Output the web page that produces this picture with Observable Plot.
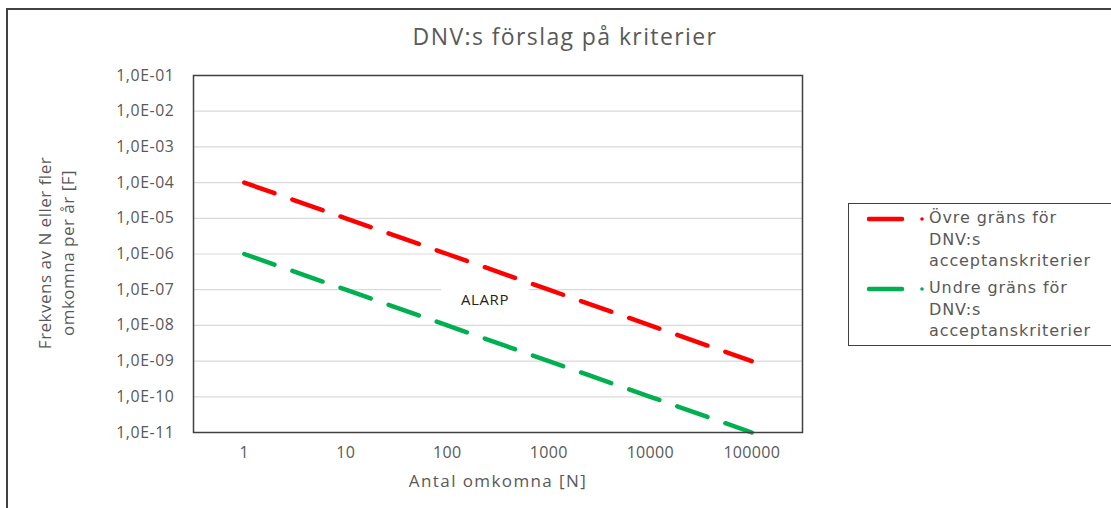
<!DOCTYPE html>
<html>
<head>
<meta charset="utf-8">
<script src="https://cdn.jsdelivr.net/npm/d3@7"></script>
<script src="https://cdn.jsdelivr.net/npm/@observablehq/plot@0.6"></script>
<style>
  html, body { margin: 0; padding: 0; background: #fff; width: 1111px; height: 508px; overflow: hidden; }
  #wrap { position: relative; width: 1111px; height: 508px; overflow: hidden; font-family: "Open Sans", sans-serif; }
  #border { position: absolute; left: 6px; top: 8px; width: 1200px; height: 600px; border: 2px solid #404040; box-sizing: border-box; }
  #title { position: absolute; left: 0; width: 1130px; top: 20px; text-align: center; font-size: 23px; letter-spacing: 1.4px; color: #595959; }
  #ylabel { position: absolute; left: 56px; top: 253px; transform: translate(-50%, -50%) rotate(-90deg); white-space: nowrap; text-align: center; font-size: 17px; letter-spacing: 0.5px; line-height: 23px; color: #595959; }
  #xlabel { position: absolute; left: 498px; top: 469px; transform: translateX(-50%); font-size: 17px; letter-spacing: 1.4px; color: #595959; white-space: nowrap; }
  #alarp { position: absolute; left: 441px; top: 282px; width: 88px; height: 34px; background: #fff; font-size: 15px; letter-spacing: 0.6px; color: #222; display: flex; align-items: center; justify-content: center; }
  #legend { position: absolute; left: 848px; top: 203px; width: 280px; height: 143px; border: 1.5px solid #404040; box-sizing: border-box; background: #fff; font-family: "DejaVu Sans", sans-serif; font-size: 16px; letter-spacing: 0.9px; color: #595959; }
  .item { position: absolute; left: 18px; }
  .item svg { position: absolute; left: 0; top: 6px; }
  .item .txt { position: absolute; left: 62px; top: 0; line-height: 21.5px; white-space: nowrap; }
  #chart svg { position: absolute; left: 0; top: 0; }
  #chart g[aria-label="y-axis tick label"] text { letter-spacing: 0.6px; font-size: 15.8px; }
  #chart g[aria-label="x-axis tick label"] text { letter-spacing: 0.3px; }
</style>
</head>
<body>
<div id="wrap">
  <div id="border"></div>
  <div id="chart"></div>
  <div id="title"></div>
  <div id="ylabel"></div>
  <div id="xlabel"></div>
  <div id="alarp"></div>
  <div id="legend"></div>
</div>
<script>
// ---- data ----
const N = [1, 10, 100, 1000, 10000, 100000];
const upper = [1e-4, 1e-5, 1e-6, 1e-7, 1e-8, 1e-9];
const lower = [1e-6, 1e-7, 1e-8, 1e-9, 1e-10, 1e-11];
const yTicks = [1e-1, 1e-2, 1e-3, 1e-4, 1e-5, 1e-6, 1e-7, 1e-8, 1e-9, 1e-10, 1e-11];
const seriesNames = ["Övre gräns för DNV:s acceptanskriterier", "Undre gräns för DNV:s acceptanskriterier"];
const seriesLegendLines = [["Övre gräns för", "DNV:s", "acceptanskriterier"], ["Undre gräns för", "DNV:s", "acceptanskriterier"]];
const seriesColors = ["#FF0000", "#00B050"];
const titleText = "DNV:s förslag på kriterier";
const yLabelLines = ["Frekvens av N eller fler", "omkomna per år [F]"];
const xLabelText = "Antal omkomna [N]";
const annotationText = "ALARP";

const rows = [];
N.forEach((n, i) => rows.push({N: n, F: upper[i], series: seriesNames[0]}));
N.forEach((n, i) => rows.push({N: n, F: lower[i], series: seriesNames[1]}));

const fmtY = d => "1,0E-" + String(Math.round(-Math.log10(d))).padStart(2, "0");

const chart = Plot.plot({
  width: 1111,
  height: 508,
  marginLeft: 193,
  marginRight: 309,
  marginTop: 75,
  marginBottom: 76,
  style: {fontFamily: "'Open Sans', sans-serif", fontSize: "16px", color: "#595959", background: "transparent"},
  x: {type: "log", domain: [Math.pow(10, -0.5), Math.pow(10, 5.5)]},
  y: {type: "log", domain: [1e-11, 1e-1]},
  color: {domain: seriesNames, range: seriesColors},
  marks: [
    Plot.gridY(yTicks, {stroke: "#d9d9d9", strokeOpacity: 1, strokeWidth: 1.2}),
    Plot.axisX(N, {tickSize: 0, tickPadding: 14, tickFormat: d => d.toFixed(0), label: null, fill: "#595959"}),
    Plot.axisY(yTicks, {tickSize: 0, tickPadding: 19, tickFormat: fmtY, label: null, fill: "#595959"}),
    Plot.line(rows, {x: "N", y: "F", z: "series", stroke: "series", strokeWidth: 4.5,
      strokeDasharray: "32,19", strokeLinecap: "round"}),
    Plot.frame({stroke: "#404040", strokeWidth: 1.5})
  ]
});
document.getElementById("chart").appendChild(chart);

document.getElementById("title").textContent = titleText;
document.getElementById("ylabel").innerHTML = yLabelLines.join("<br>");
document.getElementById("xlabel").textContent = xLabelText;
document.getElementById("alarp").textContent = annotationText;

const legend = document.getElementById("legend");
const tops = [3, 73];
seriesNames.forEach((name, i) => {
  const item = document.createElement("div");
  item.className = "item";
  item.style.top = tops[i] + "px";
  item.innerHTML = `<svg width="60" height="12"><line x1="2" y1="6" x2="35" y2="6" stroke="${seriesColors[i]}" stroke-width="4.5" stroke-linecap="round"/><circle cx="55" cy="6" r="1.8" fill="${seriesColors[i]}"/></svg><div class="txt">${seriesLegendLines[i].join("<br>")}</div>`;
  legend.appendChild(item);
});
</script>
</body>
</html>
